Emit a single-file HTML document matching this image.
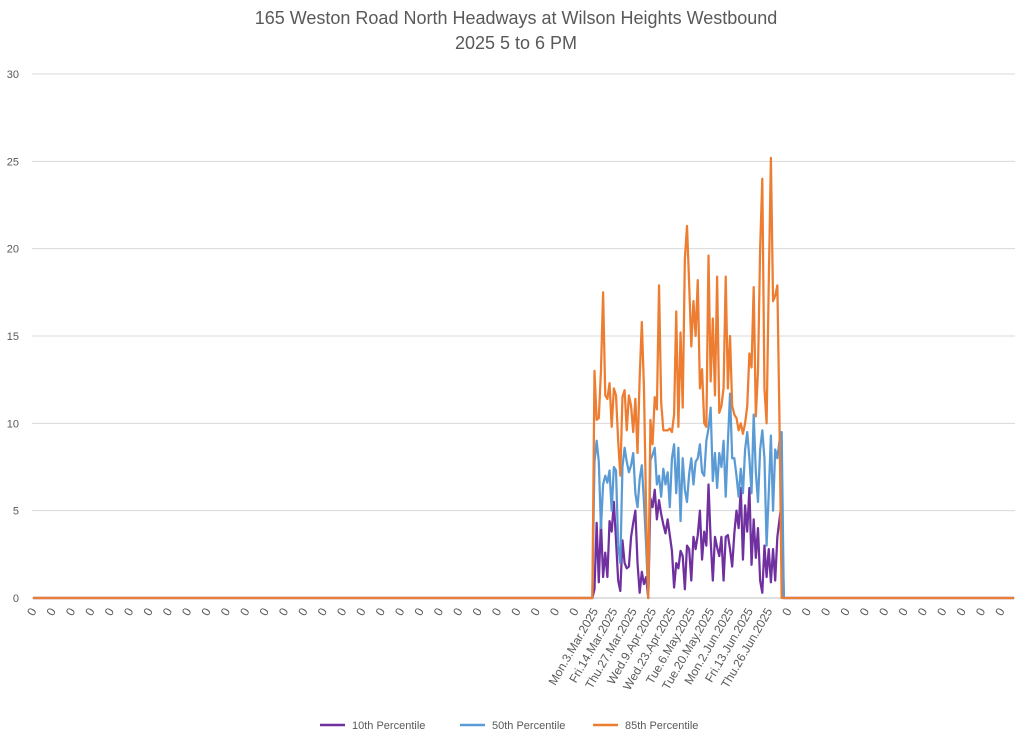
<!DOCTYPE html>
<html><head><meta charset="utf-8"><style>
html,body{margin:0;padding:0;background:#fff;}
svg{display:block;font-family:"Liberation Sans",sans-serif;}
</style></head><body>
<svg id="chart" width="1024" height="740">
<text x="516" y="24" text-anchor="middle" font-size="18" fill="#595959">165 Weston Road North Headways at Wilson Heights Westbound</text>
<text x="516" y="49" text-anchor="middle" font-size="18" fill="#595959">2025 5 to 6 PM</text>
<g id="grid"></g><g id="xlabels"></g><g id="series"></g>
<g>
<line x1="320" y1="725" x2="345" y2="725" stroke="#7030A0" stroke-width="2.5"/>
<text x="352" y="729" font-size="11" fill="#595959">10th Percentile</text>
<line x1="460" y1="725" x2="485" y2="725" stroke="#5B9BD5" stroke-width="2.5"/>
<text x="492" y="729" font-size="11" fill="#595959">50th Percentile</text>
<line x1="593" y1="725" x2="618" y2="725" stroke="#ED7D31" stroke-width="2.5"/>
<text x="625" y="729" font-size="11" fill="#595959">85th Percentile</text>
</g>
</svg>
<script>
const leadingZeros = 261;
const trailingZeros = 108;
const dateLabels = ["Mon.3.Mar.2025","Fri.14.Mar.2025","Thu.27.Mar.2025","Wed.9.Apr.2025","Wed.23.Apr.2025","Tue.6.May.2025","Tue.20.May.2025","Mon.2.Jun.2025","Fri.13.Jun.2025","Thu.26.Jun.2025"];
const yTicks = [0,5,10,15,20,25,30];
const p85 = [13,10.2,10.3,13,17.5,11.6,11.4,12.3,9.8,12,11.6,9,7,11.5,11.9,9.6,11.6,11,9.5,11.4,8.3,12.6,15.8,12,5,0,10.2,8.8,11.5,10.8,17.9,11.2,9.6,9.6,9.6,9.7,9.5,10.5,16.4,9.8,15.2,10.9,19.4,21.3,18,14.4,17,15,18.2,12,13.1,10,9.8,19.6,12.4,16,11.6,18.4,10.6,11,12,18.4,12,15,11,10.5,10.3,9.6,10,9.4,10,11,14,13.2,17.8,10.4,13,20,24,12,10,18,25.2,17,17.3,17.9,10,0];
const p50 = [7.8,9,7.8,4,6.5,7,6.6,7.3,5,7.5,7.3,3,2,7.5,8.6,7.8,7.2,7.6,8.3,6,5.2,6.8,7.6,5.5,3,0,7.9,8.2,8.6,6.5,7,5.8,7.4,6.5,7.2,5.2,8,8.8,6,8.6,4.4,8,6.2,5.5,7.1,8,6.5,7.8,8,8.8,7.2,7,9,9.7,10.9,6.7,8.3,6.3,8.3,7.5,9,5.8,8.9,11.7,8,8,7,5.8,7.4,6,8.5,9.5,8,6,10.5,7.2,5.5,8.5,9.6,8,3,6,9.3,5,8.5,8,9,9.5];
const p10 = [0.5,4.3,0.9,4.4,1.2,2.6,1.2,4.4,3.8,5.5,3.3,1,0.4,3.3,2,1.7,1.8,3.5,4.3,5,2,0.3,1.5,0.8,1.2,0,5.7,5.2,6.2,4.5,5.6,4.8,4.2,3.7,4.5,3.6,2.7,0.6,2,1.7,2.7,2.4,0.5,3,2.8,1,3.5,2.8,3.6,5,2.2,3.8,3,6.5,3.3,1,3.5,2.9,2.4,3.5,1,3.5,3.6,2.8,1.8,3.7,5,4,6.3,2.2,5.3,3.8,6.3,1.9,4.5,2.3,4,1,0.3,3,1.2,2.8,0.9,2.8,1,3.5,4.5,5.5];

const NS="http://www.w3.org/2000/svg";
const N = leadingZeros + p85.length + trailingZeros;
const plotL=32, plotR=1015, y0=598, y30=74;
const step=(plotR-plotL-2)/(N-1);
const xs=i=>33+i*step;
const ys=v=>y0-(v/30)*(y0-y30);
function full(a){const r=[];for(let i=0;i<leadingZeros;i++)r.push(0);a.forEach(v=>r.push(v));for(let i=0;i<trailingZeros;i++)r.push(0);return r;}

const grid=document.getElementById('grid');
yTicks.forEach(t=>{
  const l=document.createElementNS(NS,'line');
  l.setAttribute('x1',plotL);l.setAttribute('x2',plotR);l.setAttribute('y1',ys(t));l.setAttribute('y2',ys(t));
  l.setAttribute('stroke',t===0?'#bfbfbf':'#d9d9d9');l.setAttribute('stroke-width','1');
  
  
  grid.appendChild(l);
  const tx=document.createElementNS(NS,'text');
  tx.setAttribute('x',19);tx.setAttribute('y',ys(t)+4);tx.setAttribute('text-anchor','end');
  tx.setAttribute('font-size','11');tx.setAttribute('fill','#595959');tx.textContent=t;
  
  
  grid.appendChild(tx);
});

const xl=document.getElementById('xlabels');
for(let i=0;i<N;i+=9){
  let label="0";
  const k=(i-leadingZeros)/9;
  if(i>=leadingZeros && Number.isInteger(k) && k<dateLabels.length) label=dateLabels[k];
  const x=xs(i)+4, y=611;
  const tx=document.createElementNS(NS,'text');
  tx.setAttribute('x',x);tx.setAttribute('y',y);tx.setAttribute('text-anchor','end');
  tx.setAttribute('font-size','12');tx.setAttribute('fill','#595959');
  tx.setAttribute('transform','rotate(-60 '+x+' '+y+')');
  tx.textContent=label;
  
  
  xl.appendChild(tx);
}

const sg=document.getElementById('series');
[[p10,'#7030A0','series-10th-percentile'],[p50,'#5B9BD5','series-50th-percentile'],[p85,'#ED7D31','series-85th-percentile']].forEach(([a,c,n])=>{
  const d=full(a).map((v,i)=>(i?'L':'M')+xs(i).toFixed(2)+' '+ys(v).toFixed(2)).join(' ');
  const p=document.createElementNS(NS,'path');
  p.setAttribute('d',d);p.setAttribute('fill','none');p.setAttribute('stroke',c);
  p.setAttribute('stroke-width','2.25');p.setAttribute('stroke-linejoin','round');
  
  
  sg.appendChild(p);
});
</script>
</body></html>
